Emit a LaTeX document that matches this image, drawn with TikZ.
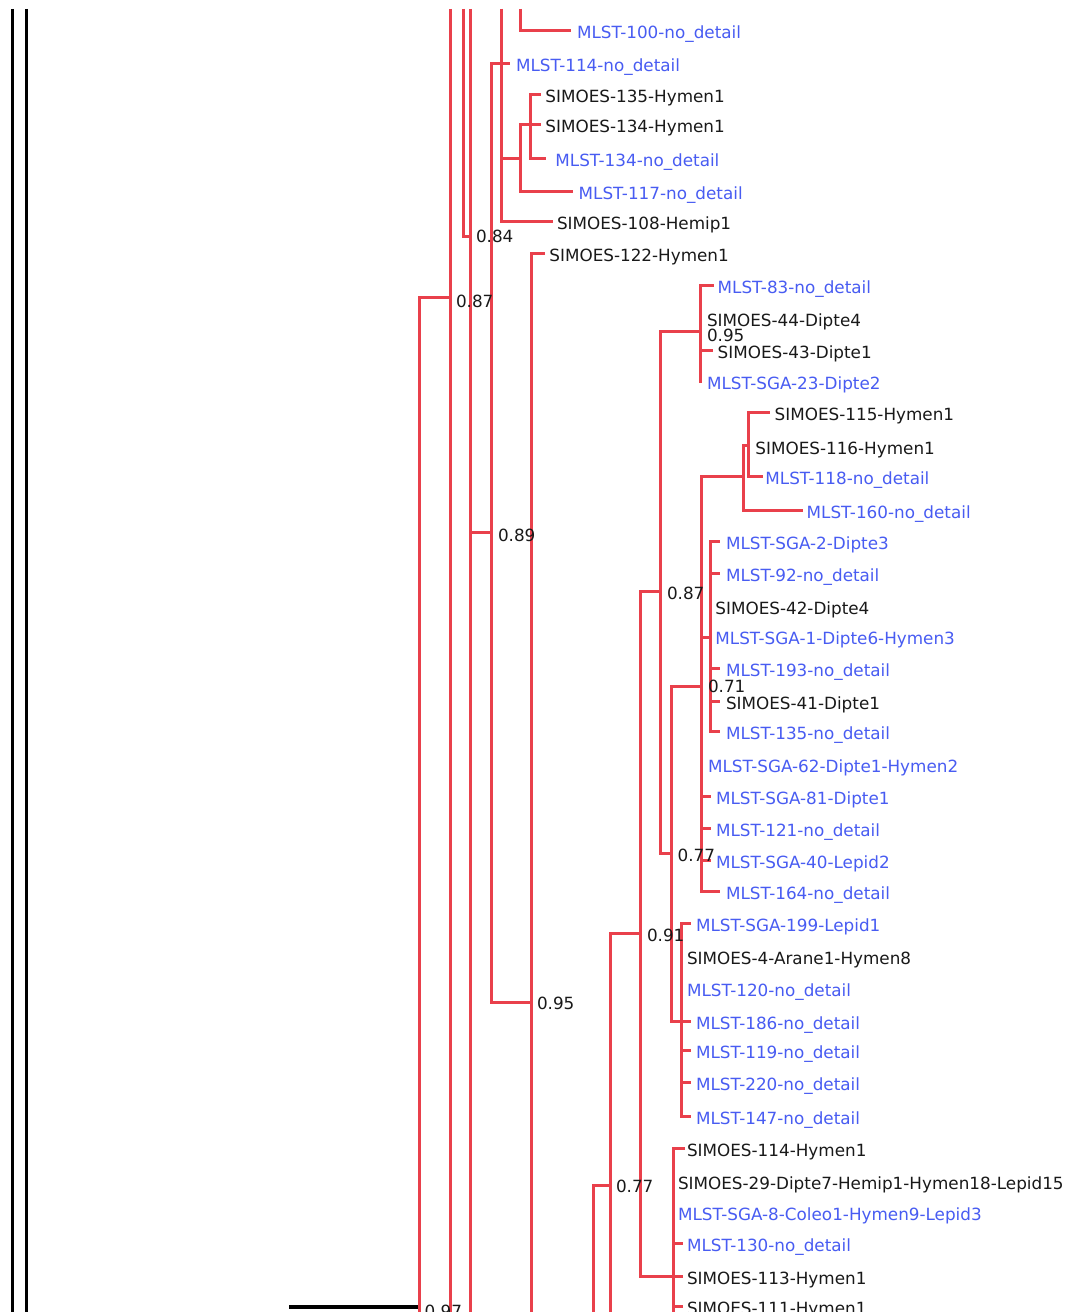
\documentclass[tikz,border=0pt]{standalone}
\usepackage{fontspec}
\setmainfont{DejaVu Sans}
\definecolor{tred}{RGB}{233,64,75}
\definecolor{tblue}{RGB}{72,92,242}
\definecolor{tblk}{RGB}{25,25,25}
\pgfdeclarelayer{bg}
\pgfsetlayers{bg,main}
% leaf with tick: name, ink x, tick y, tick end x, colour, text
\newcommand\lf[6]{%
  \node[lbl,text=#5] (#1) at ({#2-1.3},#3) {#6};
  \coordinate (#1t) at (#4,#3);}
% label without tick: name, ink x, centre y, colour, text
\newcommand\lz[5]{%
  \node[lbl,text=#4] (#1) at ({#2-1.3},{#3-2}) {#5};}
\begin{document}
\begin{tikzpicture}[x=0.75pt,y=-0.75pt,
  lbl/.style={anchor=west,inner sep=0pt,outer sep=0pt,text height=12pt,text depth=0pt,
    font=\fontsize{12.6pt}{14pt}\selectfont},
  br/.style={draw=tred,line width=2.25pt},
  bk/.style={draw=black,line width=2pt},
  bkbar/.style={draw=black,line width=3.2pt}]
\useasboundingbox (0,0) rectangle (1078,1312);

% ---------- labels ----------
\lf{l100}{578.3}{30.7}{571}{tblue}{MLST-100-no\_detail}
\lf{l114}{517.3}{63.3}{509.5}{tblue}{MLST-114-no\_detail}
\lf{l135}{546.7}{94.3}{541}{tblk}{SIMOES-135-Hymen1}
\lf{l134}{546.7}{125}{541}{tblk}{SIMOES-134-Hymen1}
\lf{lm134}{556.7}{158.3}{546}{tblue}{MLST-134-no\_detail}
\lf{l117}{580}{191.7}{572.5}{tblue}{MLST-117-no\_detail}
\lf{l108}{558.3}{221.7}{552.5}{tblk}{SIMOES-108-Hemip1}
\lf{l122}{550.7}{254}{544.5}{tblk}{SIMOES-122-Hymen1}
\lf{l83}{719}{285.3}{714}{tblue}{MLST-83-no\_detail}
\lz{l44}{708.3}{320}{tblk}{SIMOES-44-Dipte4}
\lf{l43}{719}{350}{712.5}{tblk}{SIMOES-43-Dipte1}
\lz{l23}{708.3}{383.3}{tblue}{MLST-SGA-23-Dipte2}
\lf{l115}{776}{412.7}{769.5}{tblk}{SIMOES-115-Hymen1}
\lz{l116}{756.7}{448.3}{tblk}{SIMOES-116-Hymen1}
\lf{l118}{766.7}{476.7}{762.5}{tblue}{MLST-118-no\_detail}
\lf{l160}{808}{510}{802.5}{tblue}{MLST-160-no\_detail}
\lf{l2}{727.3}{541.7}{720}{tblue}{MLST-SGA-2-Dipte3}
\lf{l92}{727.3}{573.3}{720}{tblue}{MLST-92-no\_detail}
\lz{l42}{716.7}{608.3}{tblk}{SIMOES-42-Dipte4}
\lz{l1}{716.7}{638.3}{tblue}{MLST-SGA-1-Dipte6-Hymen3}
\lf{l193}{727.3}{668}{720}{tblue}{MLST-193-no\_detail}
\lf{l41}{727.3}{701.7}{720}{tblk}{SIMOES-41-Dipte1}
\lf{lm135}{727.3}{731.7}{720}{tblue}{MLST-135-no\_detail}
\lz{l62}{709.3}{766.7}{tblue}{MLST-SGA-62-Dipte1-Hymen2}
\lf{l81}{717.3}{796}{711}{tblue}{MLST-SGA-81-Dipte1}
\lf{l121}{717.3}{828.3}{711}{tblue}{MLST-121-no\_detail}
\lf{l40}{717.3}{860}{711}{tblue}{MLST-SGA-40-Lepid2}
\lf{l164}{727.3}{891.7}{720}{tblue}{MLST-164-no\_detail}
\lf{l199}{697.3}{923.3}{691}{tblue}{MLST-SGA-199-Lepid1}
\lz{l4}{688.3}{958.3}{tblk}{SIMOES-4-Arane1-Hymen8}
\lz{l120}{688.3}{990.7}{tblue}{MLST-120-no\_detail}
\lf{l186}{697.3}{1021.7}{691}{tblue}{MLST-186-no\_detail}
\lf{l119}{697.3}{1050.7}{691}{tblue}{MLST-119-no\_detail}
\lf{l220}{697.3}{1082.7}{691}{tblue}{MLST-220-no\_detail}
\lf{l147}{697.3}{1116.7}{691}{tblue}{MLST-147-no\_detail}
\lf{ls114}{688.3}{1148.3}{684.5}{tblk}{SIMOES-114-Hymen1}
\lz{l29}{679.3}{1183.3}{tblk}{SIMOES-29-Dipte7-Hemip1-Hymen18-Lepid15}
\lz{l8}{679.3}{1214}{tblue}{MLST-SGA-8-Coleo1-Hymen9-Lepid3}
\lf{l130}{688.3}{1243.3}{683}{tblue}{MLST-130-no\_detail}
\lf{l113}{688.3}{1276.7}{683}{tblk}{SIMOES-113-Hymen1}
\lf{l111}{688.3}{1306.7}{683}{tblk}{SIMOES-111-Hymen1}

% ---------- support values ----------
\lz{s1}{477.3}{236.7}{tblk}{0.84}
\lz{s2}{457.3}{301.7}{tblk}{0.87}
\lz{s3}{499.3}{535.7}{tblk}{0.89}
\lz{s4}{538.3}{1003.3}{tblk}{0.95}
\lz{s5}{708.3}{335}{tblk}{0.95}
\lz{s6}{668.3}{593.3}{tblk}{0.87}
\lz{s7}{709.3}{686.7}{tblk}{0.71}
\lz{s8}{679}{855}{tblk}{0.77}
\lz{s9}{648.3}{935}{tblk}{0.91}
\lz{s10}{617.3}{1186}{tblk}{0.77}
\lz{s11}{426}{1311}{tblk}{0.97}

% ---------- internal nodes ----------
\coordinate (p289) at (289,1306.7);
\coordinate (n420) at (419.5,1306.7);
\coordinate (n450) at (450,297.7);
\coordinate (n470) at (470,236.7);
\coordinate (n492) at (491.7,532.7);
\coordinate (n532) at (531.7,1002.7);
\coordinate (nB) at (520,158.3);
\coordinate (nA) at (530,125);
\coordinate (n610) at (610,1185);
\coordinate (n641) at (640.5,933.3);
\coordinate (n660) at (660,591.7);
\coordinate (n700) at (700,331.7);
\coordinate (z23) at (700,382.5);
\coordinate (n672) at (671.7,853.3);
\coordinate (n701) at (701.7,686.7);
\coordinate (n743) at (743,476.7);
\coordinate (n748) at (748,445);
\coordinate (n710) at (710,637);
\coordinate (n682) at (681.7,1021.7);
\coordinate (n673) at (673.3,1276.7);
% ends of branches that leave the picture
\coordinate (top450) at (450,9);
\coordinate (top463) at (463.3,9);
\coordinate (top470) at (470,9);
\coordinate (top501) at (501.7,9);
\coordinate (top520) at (520,9);
\coordinate (bot420) at (419.5,1312);
\coordinate (bot450) at (450,1312);
\coordinate (bot470) at (470,1312);
\coordinate (bot532) at (531.7,1312);
\coordinate (bot593) at (593.3,1312);
\coordinate (bot610) at (610,1312);
\coordinate (bot673) at (673.3,1312);
\coordinate (ka1) at (12.3,9);
\coordinate (ka2) at (12.3,1312);
\coordinate (kb1) at (26.7,9);
\coordinate (kb2) at (26.7,1312);

\begin{pgfonlayer}{bg}
\fill[white] (0,0) rectangle (1078,1312);
% black part
\draw[bk] (ka1) -- (ka2);
\draw[bk] (kb1) -- (kb2);
\draw[bkbar] (p289) -- (n420);
% red subtree
\draw[br] (n420) |- (n450);
\draw[br] (n420) -- (bot420);
\draw[br] (top450) -- (bot450);
\draw[br] (top463) |- (n470);
\draw[br] (top470) -- (bot470);
\draw[br] (n470) |- (n492);
\draw[br] (n492) |- (l114t);
\draw[br] (n492) |- (n532);
\draw[br] (n532) |- (l122t);
\draw[br] (n532) -- (bot532);
\draw[br] (top520) |- (l100t);
\draw[br] (top501) |- (nB);
\draw[br] (top501) |- (l108t);
\draw[br] (nB) |- (nA);
\draw[br] (nB) |- (l117t);
\draw[br] (nA) |- (l135t);
\draw[br] (nA) |- (l134t);
\draw[br] (nA) |- (lm134t);
\draw[br] (bot593) |- (n610);
\draw[br] (n610) |- (n641);
\draw[br] (n610) -- (bot610);
\draw[br] (n641) |- (n660);
\draw[br] (n641) |- (n673);
\draw[br] (n660) |- (n700);
\draw[br] (n660) |- (n672);
\draw[br] (n700) |- (l83t);
\draw[br] (n700) |- (l43t);
\draw[br] (n700) -- (z23);
\draw[br] (n672) |- (n701);
\draw[br] (n672) |- (n682);
\draw[br] (n701) |- (n743);
\draw[br] (n701) |- (n710);
\draw[br] (n701) |- (l81t);
\draw[br] (n701) |- (l121t);
\draw[br] (n701) |- (l40t);
\draw[br] (n701) |- (l164t);
\draw[br] (n743) |- (n748);
\draw[br] (n743) |- (l160t);
\draw[br] (n748) |- (l115t);
\draw[br] (n748) |- (l118t);
\draw[br] (n710) |- (l2t);
\draw[br] (n710) |- (l92t);
\draw[br] (n710) |- (l193t);
\draw[br] (n710) |- (l41t);
\draw[br] (n710) |- (lm135t);
\draw[br] (n682) |- (l199t);
\draw[br] (n682) |- (l186t);
\draw[br] (n682) |- (l119t);
\draw[br] (n682) |- (l220t);
\draw[br] (n682) |- (l147t);
\draw[br] (n673) |- (ls114t);
\draw[br] (n673) |- (l130t);
\draw[br] (n673) |- (l113t);
\draw[br] (n673) |- (l111t);
\draw[br] (n673) -- (bot673);
\end{pgfonlayer}
\end{tikzpicture}
\end{document}
